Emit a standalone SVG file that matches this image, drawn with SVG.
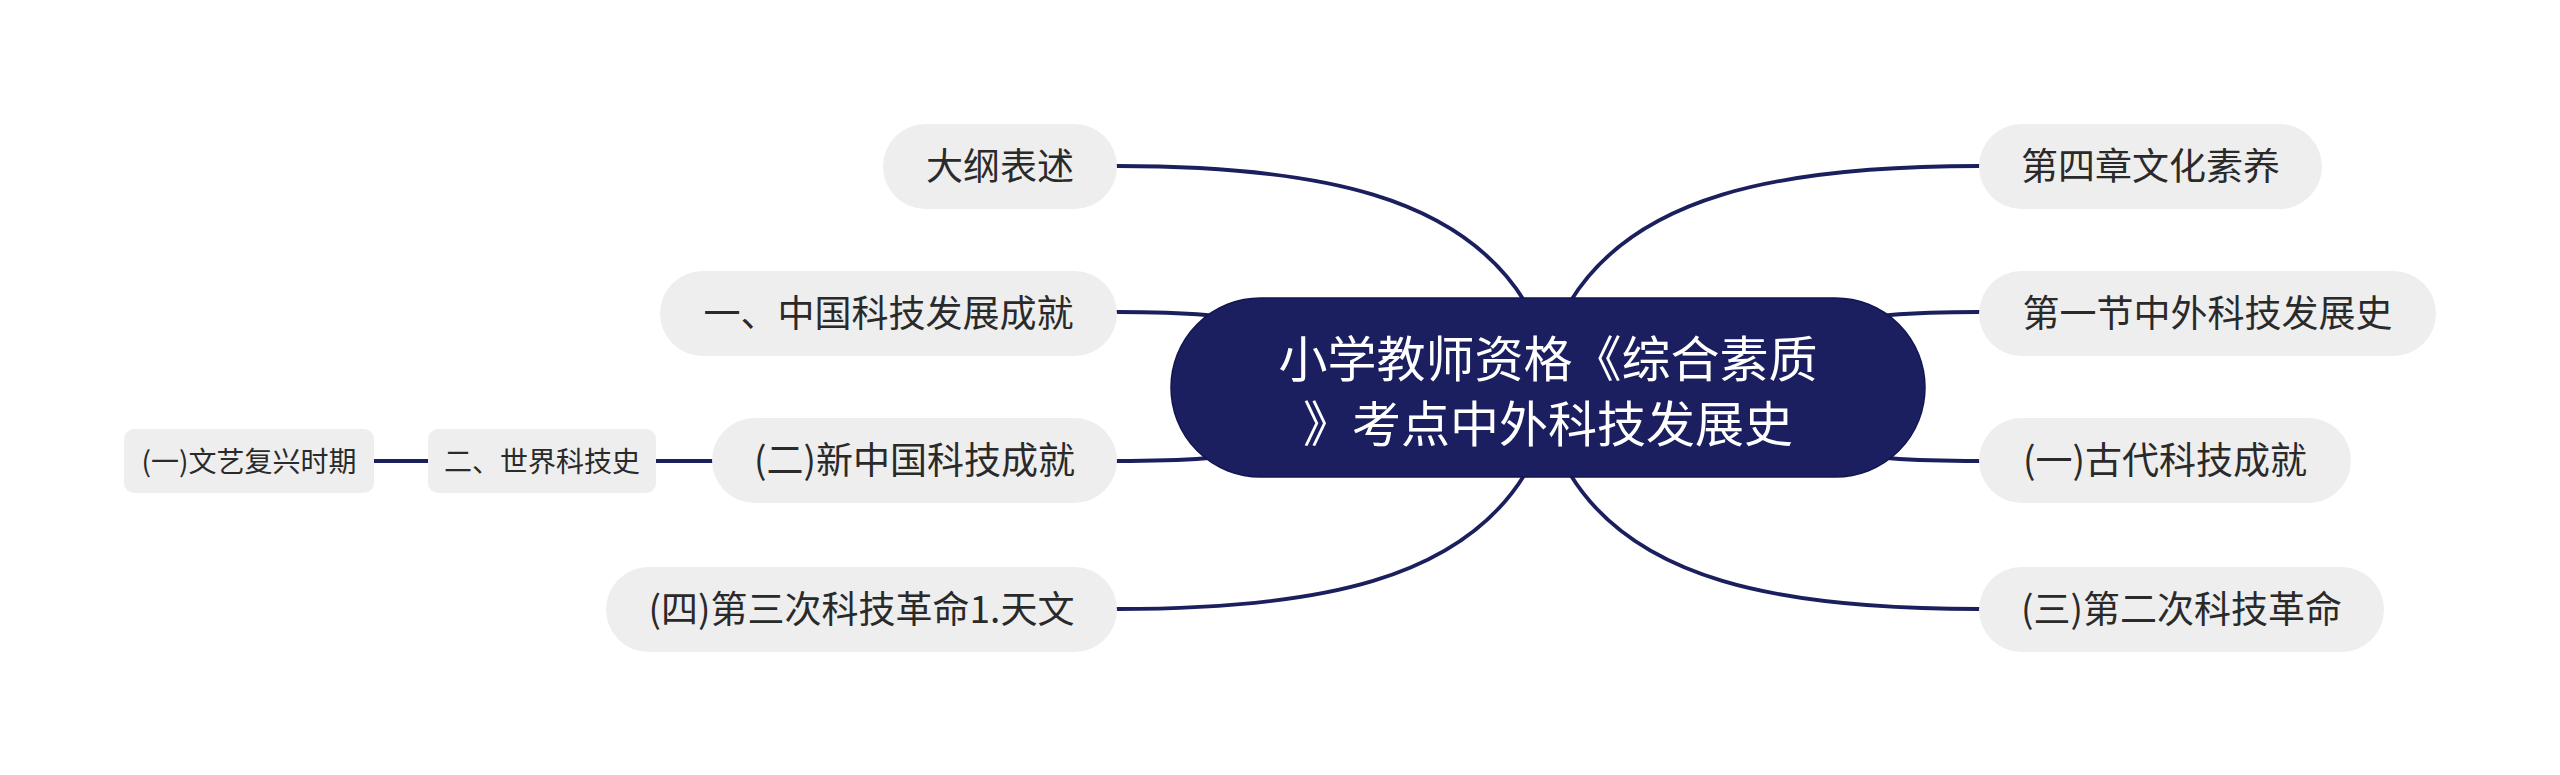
<svg xmlns="http://www.w3.org/2000/svg" width="2560" height="775" viewBox="0 0 2560 775">
<style>
.bg{fill:#ffffff}
.conn{fill:none;stroke:#1b1f5e;stroke-width:3.8;stroke-linecap:round}
.node{fill:#eeeeee}
.t{font-family:"Noto Sans CJK SC","Noto Sans",sans-serif;fill:#2a2a2a;text-anchor:middle}
.t1{font-size:37px}
.t2{font-size:28px}
.root{fill:#1b1f60;stroke:#121650;stroke-width:1.5}
.rt{font-family:"Noto Sans CJK SC","Noto Sans",sans-serif;fill:#ffffff;font-size:49px;text-anchor:middle}
</style>
<rect class="bg" x="0" y="0" width="2560" height="775"/>
<g id="connectors">
<path class="conn" d="M1117,166 C1320,166 1461,197 1525,302"/>
<path class="conn" d="M1117,312 C1180,312 1230,314 1300,330"/>
<path class="conn" d="M1117,461 C1180,461 1230,459 1300,445"/>
<path class="conn" d="M1117,609 C1320,609 1461,579 1525,474"/>
<path class="conn" d="M1979,166 C1776,166 1634,197 1570,302"/>
<path class="conn" d="M1979,312 C1916,312 1866,314 1796,330"/>
<path class="conn" d="M1979,461 C1916,461 1866,459 1796,445"/>
<path class="conn" d="M1979,609 C1776,609 1634,579 1570,474"/>
<path class="conn" d="M656,461 L712,461"/>
<path class="conn" d="M374,461 L428,461"/>
</g>
<g id="root">
<rect class="root" x="1171" y="298" width="754" height="179" rx="89.5"/>
<text class="rt" x="1548" y="377">小学教师资格《综合素质</text>
<text class="rt" x="1548" y="442">》考点中外科技发展史</text>
</g>
<g id="n-dagang">
<rect class="node" x="883" y="124" width="234" height="85" rx="42.5"/>
<text class="t t1" x="1000" y="180">大纲表述</text>
</g>
<g id="n-zhongguo">
<rect class="node" x="660" y="271" width="457" height="85" rx="42.5"/>
<text class="t t1" x="888.5" y="327">一、中国科技发展成就</text>
</g>
<g id="n-xinzhongguo">
<rect class="node" x="712" y="418" width="405" height="85" rx="42.5"/>
<text class="t t1" x="914.5" y="474">(二)新中国科技成就</text>
</g>
<g id="n-disanci">
<rect class="node" x="606" y="567" width="511" height="85" rx="42.5"/>
<text class="t t1" x="861.5" y="622.5">(四)第三次科技革命1.天文</text>
</g>
<g id="n-shijie">
<rect class="node" x="428" y="429" width="228" height="64" rx="10"/>
<text class="t t2" x="542" y="471.5">二、世界科技史</text>
</g>
<g id="n-wenyi">
<rect class="node" x="124" y="429" width="250" height="64" rx="10"/>
<text class="t t2" x="249" y="471.5">(一)文艺复兴时期</text>
</g>
<g id="n-disizhang">
<rect class="node" x="1979" y="124" width="343" height="85" rx="42.5"/>
<text class="t t1" x="2150.5" y="180">第四章文化素养</text>
</g>
<g id="n-diyijie">
<rect class="node" x="1979" y="271" width="457" height="85" rx="42.5"/>
<text class="t t1" x="2207.5" y="327">第一节中外科技发展史</text>
</g>
<g id="n-gudai">
<rect class="node" x="1979" y="418" width="372" height="85" rx="42.5"/>
<text class="t t1" x="2165" y="474">(一)古代科技成就</text>
</g>
<g id="n-dierci">
<rect class="node" x="1979" y="567" width="405" height="85" rx="42.5"/>
<text class="t t1" x="2181.5" y="622.5">(三)第二次科技革命</text>
</g>
</svg>
